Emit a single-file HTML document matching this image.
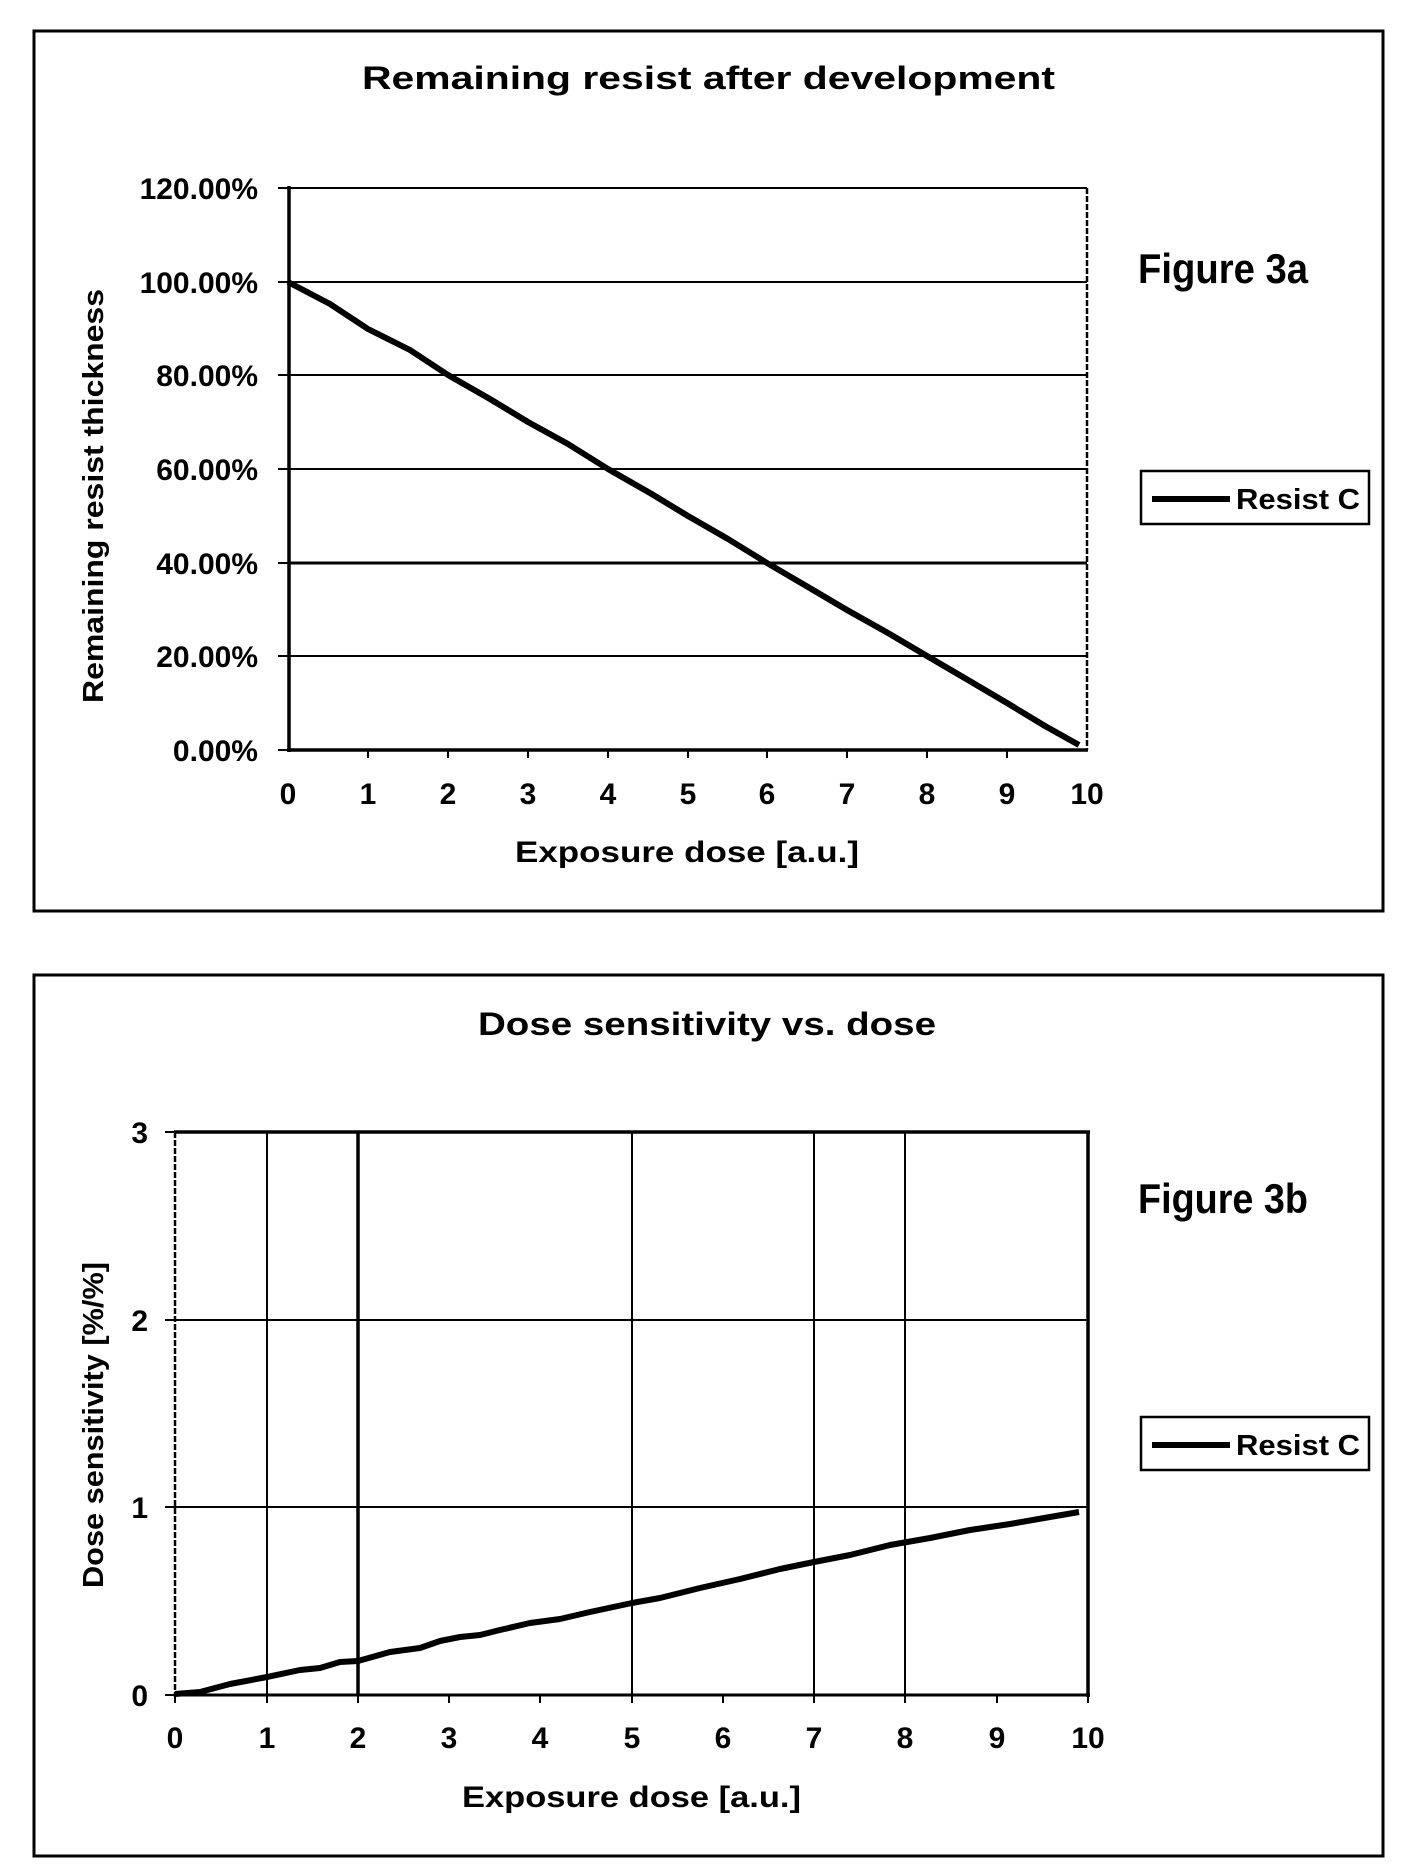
<!DOCTYPE html>
<html><head><meta charset="utf-8"><style>
html,body{margin:0;padding:0;background:#fff;}
svg{display:block;}
text{font-family:"Liberation Sans",Arial,sans-serif;font-weight:bold;fill:#000;}
</style></head><body>
<svg width="1406" height="1875" viewBox="0 0 1406 1875" xmlns="http://www.w3.org/2000/svg">
<rect width="1406" height="1875" fill="#fff"/>
<!-- Frame 1 -->
<rect x="34" y="31" width="1349" height="880" fill="none" stroke="#000" stroke-width="3"/>
<text x="362" y="89" font-size="32" textLength="693" lengthAdjust="spacingAndGlyphs">Remaining resist after development</text>
<g stroke="#000" stroke-width="2">
<line x1="288" y1="188" x2="1087" y2="188"/>
<line x1="288" y1="282" x2="1087" y2="282"/>
<line x1="288" y1="375" x2="1087" y2="375"/>
<line x1="288" y1="469" x2="1087" y2="469"/>
<line x1="288" y1="563" x2="1087" y2="563" stroke-width="3"/>
<line x1="288" y1="656" x2="1087" y2="656"/>
<line x1="1087" y1="188" x2="1087" y2="750" stroke-width="2.5" stroke-dasharray="6 2"/>
</g>
<g stroke="#000" stroke-width="3.5">
<line x1="289" y1="186" x2="289" y2="752"/>
<line x1="287" y1="750" x2="1088" y2="750"/>
</g>
<g stroke="#000" stroke-width="2">
<line x1="278" y1="188" x2="289" y2="188"/><line x1="278" y1="282" x2="289" y2="282"/><line x1="278" y1="375" x2="289" y2="375"/><line x1="278" y1="469" x2="289" y2="469"/><line x1="278" y1="563" x2="289" y2="563"/><line x1="278" y1="656" x2="289" y2="656"/><line x1="278" y1="750" x2="289" y2="750"/>
<line x1="368" y1="750" x2="368" y2="758"/><line x1="448" y1="750" x2="448" y2="758"/><line x1="528" y1="750" x2="528" y2="758"/><line x1="608" y1="750" x2="608" y2="758"/><line x1="688" y1="750" x2="688" y2="758"/><line x1="767" y1="750" x2="767" y2="758"/><line x1="847" y1="750" x2="847" y2="758"/><line x1="927" y1="750" x2="927" y2="758"/><line x1="1007" y1="750" x2="1007" y2="758"/>
</g>
<polyline fill="none" stroke="#000" stroke-width="6" stroke-linejoin="round" points="288,282 330,304 368,329 410,350 448,375 490,399 528,422 568,444 608,469 650,493 688,516 728,539 767,563 808,587 847,610 888,633 927,656 968,680 1007,703 1045,726 1079,745"/>
<g font-size="30" text-anchor="end">
<text x="258" y="199">120.00%</text>
<text x="258" y="293">100.00%</text>
<text x="258" y="386">80.00%</text>
<text x="258" y="480">60.00%</text>
<text x="258" y="574">40.00%</text>
<text x="258" y="667">20.00%</text>
<text x="258" y="761">0.00%</text>
</g>
<g font-size="30" text-anchor="middle">
<text x="288" y="804">0</text><text x="368" y="804">1</text><text x="448" y="804">2</text><text x="528" y="804">3</text><text x="608" y="804">4</text><text x="688" y="804">5</text><text x="767" y="804">6</text><text x="847" y="804">7</text><text x="927" y="804">8</text><text x="1007" y="804">9</text><text x="1087" y="804">10</text>
</g>
<text x="515" y="862" font-size="30" textLength="344" lengthAdjust="spacingAndGlyphs">Exposure dose [a.u.]</text>
<text transform="translate(103,703) rotate(-90)" font-size="29" textLength="414" lengthAdjust="spacingAndGlyphs">Remaining resist thickness</text>
<text x="1138" y="283" font-size="42" textLength="170" lengthAdjust="spacingAndGlyphs">Figure 3a</text>
<rect x="1141" y="471" width="228" height="53" fill="#fff" stroke="#000" stroke-width="2.5"/>
<line x1="1152" y1="499" x2="1230" y2="499" stroke="#000" stroke-width="6"/>
<text x="1236" y="509" font-size="29" textLength="124" lengthAdjust="spacingAndGlyphs">Resist C</text>

<!-- Frame 2 -->
<rect x="34" y="975" width="1349" height="881" fill="none" stroke="#000" stroke-width="3"/>
<text x="478" y="1035" font-size="32" textLength="458" lengthAdjust="spacingAndGlyphs">Dose sensitivity vs. dose</text>
<g stroke="#000" stroke-width="2">
<line x1="175" y1="1320" x2="1088" y2="1320"/>
<line x1="175" y1="1507" x2="1088" y2="1507"/>
<line x1="267" y1="1132" x2="267" y2="1695"/>
<line x1="358" y1="1132" x2="358" y2="1695" stroke-width="3.5"/>
<line x1="632" y1="1132" x2="632" y2="1695"/>
<line x1="814" y1="1132" x2="814" y2="1695"/>
<line x1="905" y1="1132" x2="905" y2="1695"/>
</g>
<g stroke="#000" stroke-width="3.5">
<line x1="174" y1="1132" x2="1090" y2="1132"/>
<line x1="1088" y1="1132" x2="1088" y2="1697"/>
<line x1="175" y1="1132" x2="175" y2="1697" stroke-width="2.5" stroke-dasharray="6 2"/>
<line x1="174" y1="1695" x2="1090" y2="1695" stroke-width="3"/>
</g>
<g stroke="#000" stroke-width="2">
<line x1="165" y1="1132" x2="175" y2="1132"/><line x1="165" y1="1320" x2="175" y2="1320"/><line x1="165" y1="1507" x2="175" y2="1507"/><line x1="165" y1="1695" x2="175" y2="1695"/>
<line x1="175" y1="1695" x2="175" y2="1703"/><line x1="267" y1="1695" x2="267" y2="1703"/><line x1="358" y1="1695" x2="358" y2="1703"/><line x1="449" y1="1695" x2="449" y2="1703"/><line x1="540" y1="1695" x2="540" y2="1703"/><line x1="632" y1="1695" x2="632" y2="1703"/><line x1="723" y1="1695" x2="723" y2="1703"/><line x1="814" y1="1695" x2="814" y2="1703"/><line x1="905" y1="1695" x2="905" y2="1703"/><line x1="997" y1="1695" x2="997" y2="1703"/><line x1="1088" y1="1695" x2="1088" y2="1703"/>
</g>
<polyline fill="none" stroke="#000" stroke-width="6" stroke-linejoin="round" points="175,1694 200,1692 230,1684 267,1677 300,1670 320,1668 340,1662 358,1661 390,1652 420,1648 440,1641 460,1637 480,1635 500,1630 530,1623 560,1619 590,1612 632,1603 660,1598 700,1588 740,1579 780,1569 814,1562 850,1555 890,1545 930,1538 970,1530 1010,1524 1050,1517 1079,1512"/>
<g font-size="30" text-anchor="end">
<text x="148" y="1143">3</text><text x="148" y="1331">2</text><text x="148" y="1518">1</text><text x="148" y="1706">0</text>
</g>
<g font-size="30" text-anchor="middle">
<text x="175" y="1748">0</text><text x="267" y="1748">1</text><text x="358" y="1748">2</text><text x="449" y="1748">3</text><text x="540" y="1748">4</text><text x="632" y="1748">5</text><text x="723" y="1748">6</text><text x="814" y="1748">7</text><text x="905" y="1748">8</text><text x="997" y="1748">9</text><text x="1088" y="1748">10</text>
</g>
<text x="462" y="1807" font-size="30" textLength="339" lengthAdjust="spacingAndGlyphs">Exposure dose [a.u.]</text>
<text transform="translate(103,1588) rotate(-90)" font-size="29" textLength="326" lengthAdjust="spacingAndGlyphs">Dose sensitivity [%/%]</text>
<text x="1138" y="1213" font-size="42" textLength="170" lengthAdjust="spacingAndGlyphs">Figure 3b</text>
<rect x="1141" y="1417" width="228" height="53" fill="#fff" stroke="#000" stroke-width="2.5"/>
<line x1="1152" y1="1445" x2="1230" y2="1445" stroke="#000" stroke-width="6"/>
<text x="1236" y="1455" font-size="29" textLength="124" lengthAdjust="spacingAndGlyphs">Resist C</text>
</svg>
</body></html>
